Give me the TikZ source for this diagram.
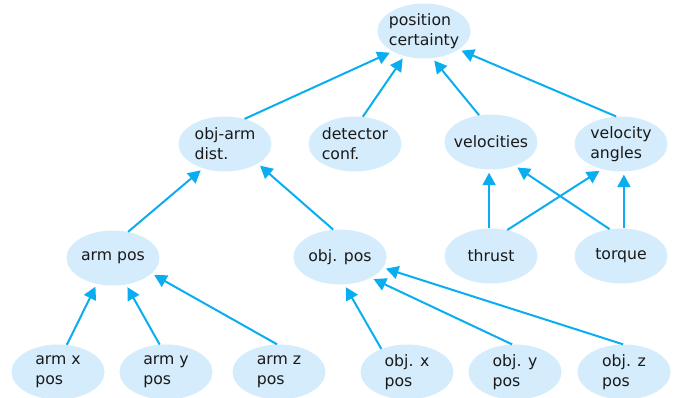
\documentclass[tikz,border=0pt]{standalone}
\usepackage{fontspec}
\setmainfont{DejaVu Sans}
\usetikzlibrary{shapes.geometric,arrows.meta}
\definecolor{nodefill}{HTML}{D4ECFB}
\definecolor{edgecol}{HTML}{0AADF0}
\definecolor{txt}{HTML}{1A1A1A}
\begin{document}
\begin{tikzpicture}[x=1pt,y=-1pt,
  nd/.style={ellipse,fill=nodefill,draw=none,minimum width=93pt,minimum height=55pt,
    inner sep=-10pt,align=left,text=txt,font=\fontsize{15.7}{20}\selectfont},
  arr/.style={draw=edgecol,line width=2pt,-{Triangle[length=12.5pt,width=13pt]},shorten >=3pt}]
\useasboundingbox (0,0) rectangle (676,398);
\node[nd] (poscert) at (424,31) {position\\certainty};
\node[nd] (objarm) at (225,144) {obj-arm\\dist.};
\node[nd] (detector) at (355,144) {detector\\conf.};
\node[nd] (velocities) at (491,142) {velocities};
\node[nd] (velangles) at (621,144) {velocity\\angles};
\node[nd] (armpos) at (113,258) {arm pos};
\node[nd] (objpos) at (340,257) {obj. pos};
\node[nd] (thrust) at (491,256) {thrust};
\node[nd] (torque) at (621,256) {torque};
\node[nd] (armx) at (58,372) {arm x\\pos};
\node[nd] (army) at (166,372) {arm y\\pos};
\node[nd] (armz) at (279,372) {arm z\\pos};
\node[nd] (objx) at (407,372) {obj. x\\pos};
\node[nd] (objy) at (515,372) {obj. y\\pos};
\node[nd] (objz) at (624,372) {obj. z\\pos};
\draw[arr] (objarm.52) -- (poscert.213);
\draw[arr] (detector.74) -- (poscert.232);
\draw[arr] (velocities.114) -- (poscert.287);
\draw[arr] (velangles.100) -- (poscert.332);
\draw[arr] (armpos.60) -- (objarm.228.5);
\draw[arr] (objpos.104.5) -- (objarm.329);
\draw[arr] (thrust.94) -- (velocities.266);
\draw[arr] (thrust.58.4) -- (velangles.233);
\draw[arr] (torque.113.4) -- (velocities.315);
\draw[arr] (torque.84) -- (velangles.276);
\draw[arr] (armx.72) -- (armpos.238);
\draw[arr] (army.103) -- (armpos.296.6);
\draw[arr] (armz.94) -- (armpos.338);
\draw[arr] (objx.138) -- (objpos.279);
\draw[arr] (objy.96) -- (objpos.326);
\draw[arr] (objz.92) -- (objpos.346);
\end{tikzpicture}
\end{document}
